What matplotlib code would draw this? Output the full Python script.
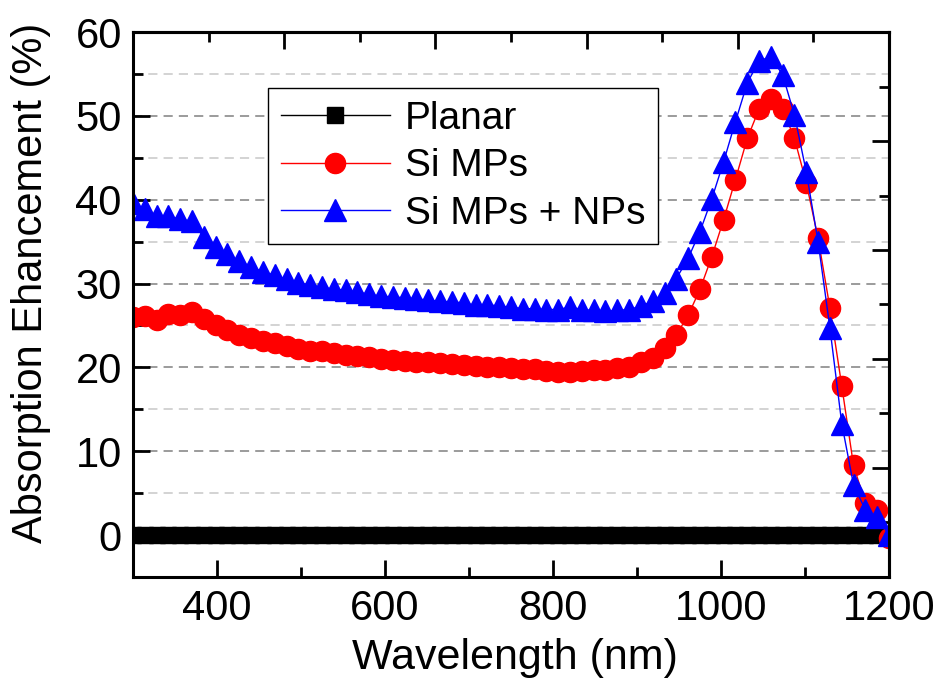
import matplotlib
matplotlib.use('Agg')
import matplotlib.pyplot as plt
from matplotlib.ticker import MultipleLocator, FixedLocator, NullFormatter

plt.rcParams['font.family'] = ['Liberation Sans', 'DejaVu Sans']

# wavelength grid (nm), 65 samples
wavelength = [300.0, 314.1, 328.1, 342.2, 356.3, 370.3, 384.4, 398.4, 412.5, 426.6,
              440.6, 454.7, 468.8, 482.8, 496.9, 510.9, 525.0, 539.1, 553.1, 567.2,
              581.3, 595.3, 609.4, 623.4, 637.5, 651.6, 665.6, 679.7, 693.8, 707.8,
              721.9, 735.9, 750.0, 764.1, 778.1, 792.2, 806.3, 820.3, 834.4, 848.4,
              862.5, 876.6, 890.6, 904.7, 918.8, 932.8, 946.9, 960.9, 975.0, 989.1,
              1003.1, 1017.2, 1031.3, 1045.3, 1059.4, 1073.4, 1087.5, 1101.6, 1115.6, 1129.7,
              1143.8, 1157.8, 1171.9, 1185.9, 1200.0]

planar = [0.0] * len(wavelength)

si_mps = [26.0, 26.1, 25.7, 26.4, 26.2, 26.6, 25.8, 25.1, 24.5, 23.9,
          23.5, 23.2, 22.9, 22.5, 22.2, 22.0, 21.9, 21.7, 21.5, 21.3,
          21.2, 21.0, 20.9, 20.8, 20.7, 20.6, 20.5, 20.4, 20.3, 20.2,
          20.0, 20.0, 19.9, 19.8, 19.8, 19.6, 19.4, 19.5, 19.6, 19.7,
          19.7, 19.9, 20.1, 20.6, 21.1, 22.3, 23.9, 26.2, 29.3, 33.2,
          37.6, 42.4, 47.3, 50.8, 52.0, 50.8, 47.3, 42.0, 35.4, 27.1,
          17.8, 8.3, 3.8, 3.0, -0.4]

si_mps_nps = [39.6, 38.9, 38.0, 38.0, 37.7, 37.4, 35.5, 34.4, 33.5, 32.7,
              32.0, 31.4, 31.0, 30.5, 30.1, 29.8, 29.6, 29.3, 29.2, 29.0,
              28.7, 28.5, 28.4, 28.3, 28.2, 28.0, 27.9, 27.8, 27.7, 27.4,
              27.5, 27.3, 27.2, 27.0, 27.0, 26.9, 26.9, 27.2, 26.9, 26.8,
              26.7, 26.8, 26.9, 27.3, 27.9, 28.9, 30.6, 33.0, 36.2, 40.1,
              44.5, 49.3, 53.9, 56.6, 57.0, 54.9, 50.1, 43.3, 35.0, 24.7,
              13.3, 6.0, 3.0, 2.2, 0.0]

fig = plt.figure(figsize=(9.43, 6.96), dpi=100)
ax = fig.add_axes([0.141, 0.171, 0.8017, 0.783])

ax.plot(wavelength, planar, color='black', lw=1.0, marker='s', ms=11.5,
        mec='black', mfc='black', label='Planar')
ax.plot(wavelength, si_mps, color='#ff0000', lw=1.0, marker='o', ms=14.5,
        mec='#ff0000', mfc='#ff0000', label='Si MPs')
ax.plot(wavelength, si_mps_nps, color='#0000ff', lw=1.0, marker='^', ms=16,
        mec='#0000ff', mfc='#0000ff', label='Si MPs + NPs')

ax.set_xlim(300, 1200)
ax.set_ylim(-5, 60)
ax.xaxis.set_major_locator(MultipleLocator(200))
ax.xaxis.set_minor_locator(MultipleLocator(100))
ax.yaxis.set_major_locator(MultipleLocator(10))
ax.yaxis.set_minor_locator(MultipleLocator(5))

ax.set_axisbelow(True)
ax.yaxis.grid(True, which='major', linestyle=(0, (6, 4)), color='#808080', lw=1.1)
ax.yaxis.grid(True, which='minor', linestyle=(0, (6, 4)), color='#c8c8c8', lw=1.1)

ax.tick_params(which='both', direction='in', top=False, right=False, width=2)
ax.tick_params(which='major', length=12, labelsize=30)
ax.tick_params(axis='x', which='major', pad=9)
ax.tick_params(axis='y', which='major', pad=8)
ax.tick_params(which='minor', length=7)
for s in ax.spines.values():
    s.set_linewidth(2.2)

# Origin-style opposite axes with their own tick spacing
top = ax.secondary_xaxis('top')
top.xaxis.set_major_locator(FixedLocator([300, 480, 660, 840, 1020, 1200]))
top.xaxis.set_minor_locator(FixedLocator([390, 570, 750, 930, 1110]))
top.xaxis.set_major_formatter(NullFormatter())
top.tick_params(which='both', direction='in', width=2)
top.tick_params(which='major', length=12)
top.tick_params(which='minor', length=7)
top.spines['top'].set_linewidth(2.2)

right = ax.secondary_yaxis('right')
right.yaxis.set_major_locator(FixedLocator([-5, 8, 21, 34, 47, 60]))
right.yaxis.set_minor_locator(FixedLocator([1.5, 14.5, 27.5, 40.5, 53.5]))
right.yaxis.set_major_formatter(NullFormatter())
right.tick_params(which='both', direction='in', width=2)
right.tick_params(which='major', length=12)
right.tick_params(which='minor', length=7)
right.spines['right'].set_linewidth(2.2)

ax.set_xlabel('Wavelength (nm)', fontsize=31)
ax.set_ylabel('Absorption Ehancement (%)', fontsize=30)
ax.xaxis.set_label_coords(0.505, -0.112)
ax.yaxis.set_label_coords(-0.108, 0.539)

leg = ax.legend(loc='upper left', bbox_to_anchor=(0.1786, 0.897), borderaxespad=0,
                fontsize=28, numpoints=1, handlelength=2.8, handletextpad=0.39,
                borderpad=0.33, labelspacing=0.29, fancybox=False, framealpha=1)
leg.get_frame().set_edgecolor('black')
leg.get_frame().set_linewidth(1.0)

fig.savefig('out.png', dpi=100)
